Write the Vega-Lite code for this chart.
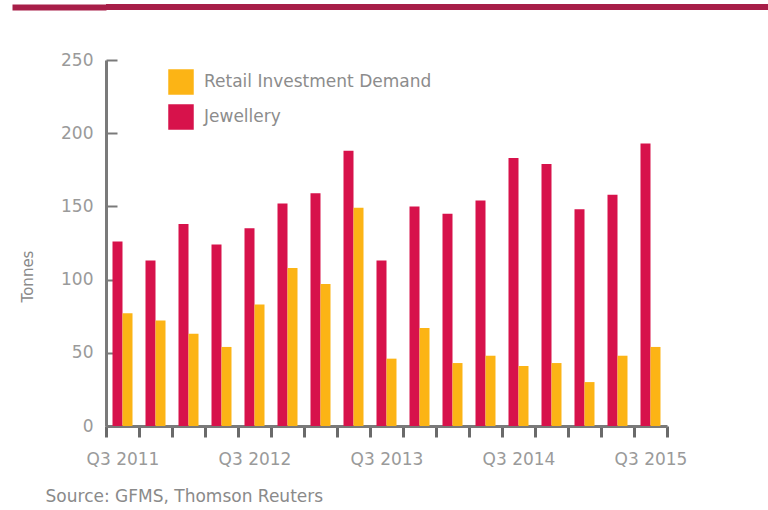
{
  "$schema": "https://vega.github.io/schema/vega-lite/v6.json",
  "padding": {"left": 9, "top": 4, "right": 0, "bottom": 0},
  "background": "white",
  "spacing": 41,
  "config": {"view": {"stroke": null}, "font": "DejaVu Sans"},
  "vconcat": [
    {
      "width": 662,
      "height": 6,
      "data": {"values": [{"band": "line"}]},
      "mark": {"type": "rect", "color": "#a71e48"},
      "encoding": {
        "y": {
          "field": "band",
          "type": "nominal",
          "scale": {"paddingInner": 0, "paddingOuter": 0},
          "axis": {
            "title": null,
            "labels": false,
            "domain": false,
            "ticks": true,
            "tickSize": 94,
            "tickWidth": 6,
            "tickColor": "#a71e48"
          }
        }
      }
    },
    {
      "width": 561,
      "height": 366,
      "data": {
        "values": [
          {"quarter": "Q3 2011", "series": "Jewellery", "value": 126},
          {"quarter": "Q3 2011", "series": "Retail Investment Demand", "value": 77},
          {"quarter": "Q4 2011", "series": "Jewellery", "value": 113},
          {"quarter": "Q4 2011", "series": "Retail Investment Demand", "value": 72},
          {"quarter": "Q1 2012", "series": "Jewellery", "value": 138},
          {"quarter": "Q1 2012", "series": "Retail Investment Demand", "value": 63},
          {"quarter": "Q2 2012", "series": "Jewellery", "value": 124},
          {"quarter": "Q2 2012", "series": "Retail Investment Demand", "value": 54},
          {"quarter": "Q3 2012", "series": "Jewellery", "value": 135},
          {"quarter": "Q3 2012", "series": "Retail Investment Demand", "value": 83},
          {"quarter": "Q4 2012", "series": "Jewellery", "value": 152},
          {"quarter": "Q4 2012", "series": "Retail Investment Demand", "value": 108},
          {"quarter": "Q1 2013", "series": "Jewellery", "value": 159},
          {"quarter": "Q1 2013", "series": "Retail Investment Demand", "value": 97},
          {"quarter": "Q2 2013", "series": "Jewellery", "value": 188},
          {"quarter": "Q2 2013", "series": "Retail Investment Demand", "value": 149},
          {"quarter": "Q3 2013", "series": "Jewellery", "value": 113},
          {"quarter": "Q3 2013", "series": "Retail Investment Demand", "value": 46},
          {"quarter": "Q4 2013", "series": "Jewellery", "value": 150},
          {"quarter": "Q4 2013", "series": "Retail Investment Demand", "value": 67},
          {"quarter": "Q1 2014", "series": "Jewellery", "value": 145},
          {"quarter": "Q1 2014", "series": "Retail Investment Demand", "value": 43},
          {"quarter": "Q2 2014", "series": "Jewellery", "value": 154},
          {"quarter": "Q2 2014", "series": "Retail Investment Demand", "value": 48},
          {"quarter": "Q3 2014", "series": "Jewellery", "value": 183},
          {"quarter": "Q3 2014", "series": "Retail Investment Demand", "value": 41},
          {"quarter": "Q4 2014", "series": "Jewellery", "value": 179},
          {"quarter": "Q4 2014", "series": "Retail Investment Demand", "value": 43},
          {"quarter": "Q1 2015", "series": "Jewellery", "value": 148},
          {"quarter": "Q1 2015", "series": "Retail Investment Demand", "value": 30},
          {"quarter": "Q2 2015", "series": "Jewellery", "value": 158},
          {"quarter": "Q2 2015", "series": "Retail Investment Demand", "value": 48},
          {"quarter": "Q3 2015", "series": "Jewellery", "value": 193},
          {"quarter": "Q3 2015", "series": "Retail Investment Demand", "value": 54}
        ]
      },
      "title": {
        "text": "Source: GFMS, Thomson Reuters",
        "orient": "bottom",
        "anchor": "start",
        "fontSize": 17,
        "fontWeight": "normal",
        "color": "#8a8a8a",
        "offset": 22,
        "dx": 25
      },
      "mark": {"type": "bar"},
      "encoding": {
        "x": {
          "field": "quarter",
          "type": "nominal",
          "sort": null,
          "scale": {"paddingInner": 0, "paddingOuter": 0},
          "axis": {
            "title": null,
            "tickBand": "extent",
            "labelAngle": 0,
            "labelExpr": "indexof(datum.label, 'Q3') == 0 ? datum.label : ''",
            "domainColor": "#7a7a7a",
            "domainWidth": 3,
            "tickColor": "#6a6a6a",
            "tickSize": 11,
            "tickWidth": 3,
            "labelFontSize": 17,
            "labelColor": "#9a9a9a",
            "labelPadding": 14
          }
        },
        "xOffset": {
          "field": "series",
          "type": "nominal",
          "sort": ["Jewellery", "Retail Investment Demand"],
          "scale": {"paddingInner": 0, "paddingOuter": 0.65}
        },
        "y": {
          "field": "value",
          "type": "quantitative",
          "scale": {"domain": [0, 250], "nice": false},
          "axis": {
            "title": "Tonnes",
            "titleFontSize": 15,
            "titleFontWeight": "normal",
            "titleColor": "#8a8a8a",
            "titlePadding": 25,
            "titleY": 216,
            "values": [0, 50, 100, 150, 200, 250],
            "grid": false,
            "domainColor": "#7a7a7a",
            "domainWidth": 3,
            "tickColor": "#7a7a7a",
            "tickSize": -11,
            "tickWidth": 2,
            "labelFontSize": 17,
            "labelColor": "#9a9a9a",
            "labelPadding": 24
          }
        },
        "color": {
          "field": "series",
          "type": "nominal",
          "scale": {
            "domain": ["Retail Investment Demand", "Jewellery"],
            "range": ["#fcb415", "#d7124b"]
          },
          "legend": {
            "title": null,
            "orient": "none",
            "legendX": 62,
            "legendY": 9,
            "symbolType": "square",
            "symbolSize": 650,
            "symbolStrokeWidth": 0,
            "symbolOpacity": 1,
            "labelFontSize": 17,
            "labelLimit": 400,
            "labelColor": "#8c8c8c",
            "labelOffset": 10,
            "rowPadding": 9
          }
        }
      }
    }
  ],
  "resolve": {"legend": {"color": "independent"}}
}
